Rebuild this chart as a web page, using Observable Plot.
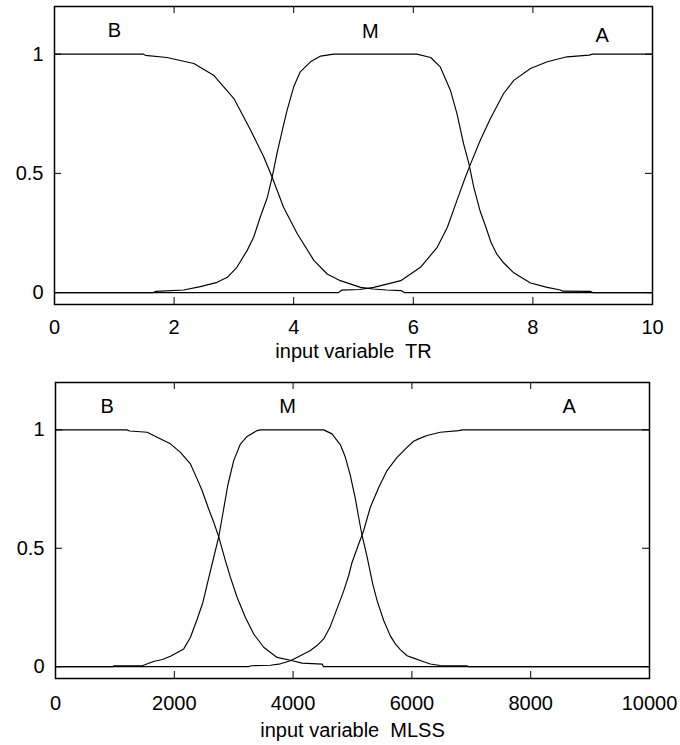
<!DOCTYPE html>
<html>
<head>
<meta charset="utf-8">
<script src="https://cdn.jsdelivr.net/npm/d3@7"></script>
<script src="https://cdn.jsdelivr.net/npm/@observablehq/plot@0.6"></script>
<style>
  html, body { margin: 0; padding: 0; background: #fff; }
  #chart svg { display: block; }
</style>
</head>
<body>
<div id="chart"></div>
<script>
// ---------- Panel 1: input variable TR ----------
const trTicksX = [0, 2, 4, 6, 8, 10];
const yTicks = [0, 0.5, 1];

const trB_x = [0, 1.49, 1.52, 1.88, 2.33, 2.66, 3.0, 3.28, 3.50, 3.64, 3.83, 4.06, 4.34, 4.56, 4.78, 5.12, 5.33, 5.55, 5.80, 5.85, 10];
const trB_y = [1, 1, 0.995, 0.986, 0.961, 0.912, 0.814, 0.681, 0.569, 0.484, 0.358, 0.247, 0.134, 0.078, 0.050, 0.022, 0.015, 0.011, 0.008, 0, 0];

const trM_x = [0, 1.65, 1.70, 2.16, 2.44, 2.72, 2.89, 3.05, 3.22, 3.33, 3.44, 3.56, 3.64, 3.72, 3.81, 3.89, 4.00, 4.11, 4.28, 4.45, 4.67, 6.06, 6.29, 6.45, 6.62, 6.73, 6.84, 6.93, 7.01, 7.12, 7.22, 7.30, 7.40, 7.51, 7.68, 7.96, 8.24, 8.46, 8.50, 8.96, 9.0, 10];
const trM_y = [0, 0, 0.005, 0.011, 0.025, 0.043, 0.064, 0.106, 0.176, 0.232, 0.316, 0.400, 0.484, 0.583, 0.681, 0.765, 0.863, 0.926, 0.968, 0.992, 1, 1, 0.986, 0.947, 0.849, 0.751, 0.625, 0.541, 0.443, 0.34, 0.27, 0.21, 0.16, 0.125, 0.083, 0.040, 0.022, 0.011, 0.006, 0.005, 0, 0];

const trA_x = [0, 4.75, 4.80, 5.10, 5.34, 5.79, 6.12, 6.40, 6.57, 6.73, 6.87, 6.96, 7.12, 7.29, 7.51, 7.68, 7.96, 8.24, 8.57, 8.94, 9.0, 10];
const trA_y = [0, 0, 0.010, 0.013, 0.022, 0.050, 0.106, 0.190, 0.274, 0.387, 0.484, 0.541, 0.639, 0.730, 0.835, 0.890, 0.940, 0.968, 0.989, 0.996, 1, 1];

const trLabels = ["B", "M", "A"];
const trLabelX = [1.0, 5.28, 9.16];
const trLabelY = [1.10, 1.094, 1.08];

// ---------- Panel 2: input variable MLSS ----------
const mlTicksX = [0, 2000, 4000, 6000, 8000, 10000];

const mlB_x = [0, 1200, 1250, 1543, 1711, 1935, 2103, 2272, 2384, 2468, 2580, 2664, 2748, 2860, 2945, 3057, 3197, 3337, 3505, 3730, 3954, 4150, 4490, 4510, 10000];
const mlB_y = [1, 1, 0.995, 0.99, 0.969, 0.941, 0.905, 0.856, 0.793, 0.744, 0.665, 0.610, 0.548, 0.448, 0.377, 0.293, 0.208, 0.138, 0.082, 0.039, 0.027, 0.015, 0.011, 0, 0];

const mlM_x = [0, 970, 980, 1459, 1650, 1800, 1935, 2159, 2272, 2384, 2480, 2580, 2664, 2748, 2820, 2900, 3000, 3113, 3225, 3394, 3450, 4515, 4655, 4796, 4880, 4964, 5048, 5104, 5160, 5245, 5340, 5413, 5525, 5637, 5721, 5805, 5918, 6029, 6150, 6310, 6478, 6928, 6950, 10000];
const mlM_y = [0, 0, 0.004, 0.004, 0.022, 0.030, 0.044, 0.075, 0.124, 0.200, 0.270, 0.375, 0.462, 0.548, 0.650, 0.765, 0.870, 0.940, 0.972, 0.997, 1, 1, 0.983, 0.937, 0.884, 0.807, 0.710, 0.630, 0.555, 0.465, 0.350, 0.280, 0.195, 0.130, 0.096, 0.072, 0.046, 0.036, 0.025, 0.011, 0.005, 0.004, 0, 0];

const mlA_x = [0, 3250, 3300, 3618, 3786, 3954, 4122, 4291, 4403, 4515, 4627, 4740, 4852, 4936, 4992, 5104, 5160, 5188, 5300, 5441, 5581, 5750, 5918, 6029, 6113, 6254, 6478, 6787, 6850, 10000];
const mlA_y = [0, 0, 0.004, 0.006, 0.012, 0.025, 0.046, 0.068, 0.089, 0.117, 0.170, 0.245, 0.320, 0.385, 0.440, 0.518, 0.555, 0.575, 0.673, 0.757, 0.828, 0.884, 0.926, 0.952, 0.962, 0.976, 0.990, 0.997, 1, 1];

const mlLabels = ["B", "M", "A"];
const mlLabelX = [870, 3909, 8649];
const mlLabelY = [1.098, 1.098, 1.098];

// ---------- helpers ----------
function rows(name, xs, ys) { return xs.map((x, i) => ({mf: name, x, y: ys[i]})); }

function panel(o) {
  const innerW = o.width - o.ml - o.mr;
  const innerH = o.height - o.mt - o.mb;
  const data = o.curves.flatMap(c => rows(c.name, c.x, c.y));
  const labels = o.labels.map((t, i) => ({t, x: o.labelX[i], y: o.labelY[i]}));
  return Plot.plot({
    width: o.width, height: o.height,
    marginTop: o.mt, marginBottom: o.mb, marginLeft: o.ml, marginRight: o.mr,
    x: {domain: o.xDomain},
    y: {domain: [-0.05, 1.2]},
    style: {fontFamily: "Arial, 'Liberation Sans', sans-serif", fontSize: "20px", color: "#000", background: "#fff", overflow: "visible"},
    marks: [
      Plot.line(data, {x: "x", y: "y", z: "mf", stroke: "#000", strokeWidth: 1.15, curve: "linear"}),
      Plot.tickX(o.ticksX, {x: d => d, insetTop: innerH - 7, stroke: "#000"}),
      Plot.tickX(o.ticksX, {x: d => d, insetBottom: innerH - 7, stroke: "#000"}),
      Plot.tickY(yTicks, {y: d => d, insetRight: innerW - 7, stroke: "#000"}),
      Plot.tickY(yTicks, {y: d => d, insetLeft: innerW - 7, stroke: "#000"}),
      Plot.axisX({ticks: o.ticksX, tickSize: 0, tickPadding: o.xPad, tickFormat: d => String(d), label: null, fill: "#000"}),
      Plot.axisY({ticks: yTicks, tickSize: 0, tickPadding: 11, tickFormat: d => String(d), label: null, fill: "#000"}),
      Plot.text(labels, {x: "x", y: "y", text: "t", fill: "#000"}),
      Plot.text([o.xlabel], {frameAnchor: "bottom", dy: o.labelDy, text: d => d, fill: "#000"}),
      Plot.frame({stroke: "#000", strokeWidth: 1.5})
    ]
  });
}

const chart = document.getElementById("chart");
chart.append(panel({
  width: 680, height: 370, mt: 6, mb: 66, ml: 54, mr: 28,
  xDomain: [0, 10], ticksX: trTicksX, xPad: 15, labelDy: 53,
  curves: [{name: "B", x: trB_x, y: trB_y}, {name: "M", x: trM_x, y: trM_y}, {name: "A", x: trA_x, y: trA_y}],
  labels: trLabels, labelX: trLabelX, labelY: trLabelY,
  xlabel: "input variable\u00a0 TR"
}));
chart.append(panel({
  width: 680, height: 375, mt: 12, mb: 67, ml: 55, mr: 31,
  xDomain: [0, 10000], ticksX: mlTicksX, xPad: 17, labelDy: 58,
  curves: [{name: "B", x: mlB_x, y: mlB_y}, {name: "M", x: mlM_x, y: mlM_y}, {name: "A", x: mlA_x, y: mlA_y}],
  labels: mlLabels, labelX: mlLabelX, labelY: mlLabelY,
  xlabel: "input variable\u00a0 MLSS"
}));
</script>
</body>
</html>
